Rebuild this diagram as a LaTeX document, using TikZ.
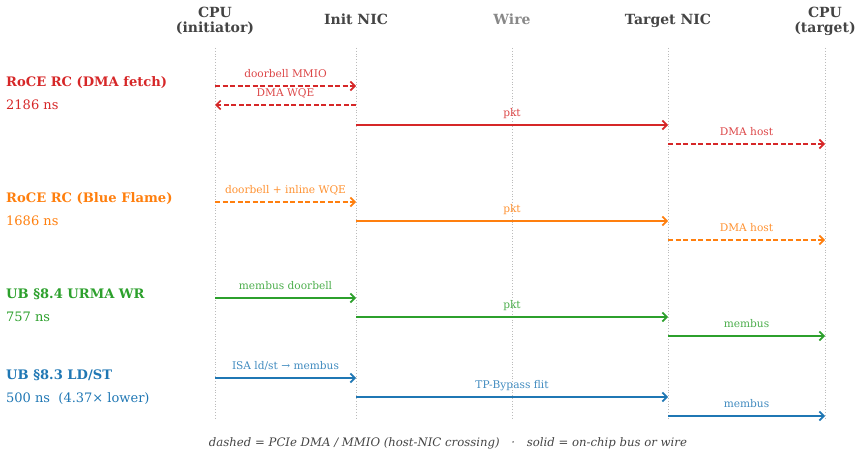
\documentclass[tikz,border=0pt]{standalone}
\usepackage{fontspec}
\setmainfont{DejaVu Serif}
\usetikzlibrary{arrows.meta}
\definecolor{rc}{HTML}{D62728}
\definecolor{bf}{HTML}{FF7F0E}
\definecolor{ur}{HTML}{2CA02C}
\definecolor{ls}{HTML}{1F77B4}
\definecolor{hd}{HTML}{444444}
\definecolor{wr}{HTML}{888888}
\definecolor{ln}{HTML}{BBBBBB}
\tikzset{
  lane/.style={font=\fontsize{14}{15}\selectfont\bfseries,text=hd,align=center,inner sep=0pt},
  life/.style={draw=ln,dotted,line width=0.8pt},
  msg/.style={-{Straight Barb[length=4.5pt,width=9pt]},line width=1.7pt},
  pcie/.style={msg,dash pattern=on 5pt off 2.5pt},
  lbl/.style={midway,anchor=base,yshift=8.5pt,inner sep=0pt,font=\fontsize{10.6}{12}\selectfont},
  proto/.style={anchor=base west,inner sep=0pt,font=\fontsize{13.1}{15}\selectfont\bfseries},
  lat/.style={anchor=base west,inner sep=0pt,font=\fontsize{13}{15}\selectfont},
}

\begin{document}
\begin{tikzpicture}[x=1pt,y=-1pt]
\useasboundingbox (0,0) rectangle (861,457);

% lanes
\node[lane] (hci) at (215,21) {CPU\\(initiator)};
\node[lane,anchor=base] (hin) at (356,25) {Init NIC};
\node[lane,anchor=base,text=wr] (hwi) at (512,25) {Wire};
\node[lane,anchor=base] (htn) at (668,25) {Target NIC};
\node[lane] (hct) at (825,21) {CPU\\(target)};
\foreach \n/\x in {ci/215,ini/356,wi/512,tn/668,ct/825}{
  \coordinate (\n) at (\x,48);
  \coordinate (\n-end) at (\x,418);
  \draw[life] (\n) -- (\n-end);
}

% RoCE RC, DMA fetch
\node[proto,text=rc] (p1) at (6,87) {RoCE RC (DMA fetch)};
\node[lat,text=rc] (l1) at (6,110) {2186 ns};
\coordinate (a1) at (0,86);
\coordinate (a2) at (0,105);
\coordinate (a3) at (0,125);
\coordinate (a4) at (0,144);
\draw[pcie,rc] (ci |- a1) -- (ini |- a1) node[lbl,text=rc!85] {doorbell MMIO};
\draw[pcie,rc] (ini |- a2) -- (ci |- a2) node[lbl,text=rc!85] {DMA WQE};
\draw[msg,rc] (ini |- a3) -- (tn |- a3) node[lbl,text=rc!85] {pkt};
\draw[pcie,rc] (tn |- a4) -- (ct |- a4) node[lbl,text=rc!85] {DMA host};

% RoCE RC, Blue Flame
\node[proto,text=bf] (p2) at (6,202) {RoCE RC (Blue Flame)};
\node[lat,text=bf] (l2) at (6,225) {1686 ns};
\coordinate (b1) at (0,202);
\coordinate (b2) at (0,221);
\coordinate (b3) at (0,240);
\draw[pcie,bf] (ci |- b1) -- (ini |- b1) node[lbl,text=bf!85] {doorbell + inline WQE};
\draw[msg,bf] (ini |- b2) -- (tn |- b2) node[lbl,text=bf!85] {pkt};
\draw[pcie,bf] (tn |- b3) -- (ct |- b3) node[lbl,text=bf!85] {DMA host};

% UB 8.4 URMA WR
\node[proto,text=ur] (p3) at (6,298) {UB §8.4 URMA WR};
\node[lat,text=ur] (l3) at (6,321) {757 ns};
\coordinate (c1) at (0,298);
\coordinate (c2) at (0,317);
\coordinate (c3) at (0,336);
\draw[msg,ur] (ci |- c1) -- (ini |- c1) node[lbl,text=ur!85] {membus doorbell};
\draw[msg,ur] (ini |- c2) -- (tn |- c2) node[lbl,text=ur!85] {pkt};
\draw[msg,ur] (tn |- c3) -- (ct |- c3) node[lbl,text=ur!85] {membus};

% UB 8.3 LD/ST
\node[proto,text=ls] (p4) at (6,379) {UB §8.3 LD/ST};
\node[lat,text=ls] (l4) at (6,402) {500 ns\ \ (4.37× lower)};
\coordinate (d1) at (0,378);
\coordinate (d2) at (0,397);
\coordinate (d3) at (0,416);
\draw[msg,ls] (ci |- d1) -- (ini |- d1) node[lbl,text=ls!85] {ISA ld/st → membus};
\draw[msg,ls] (ini |- d2) -- (tn |- d2) node[lbl,text=ls!85] {TP-Bypass flit};
\draw[msg,ls] (tn |- d3) -- (ct |- d3) node[lbl,text=ls!85] {membus};

% legend
\node[anchor=base,text=hd,font=\fontsize{11.7}{13}\selectfont\itshape] (leg) at (448,446)
  {dashed = PCIe DMA / MMIO (host-NIC crossing)\quad·\quad solid = on-chip bus or wire};
\end{tikzpicture}
\end{document}
